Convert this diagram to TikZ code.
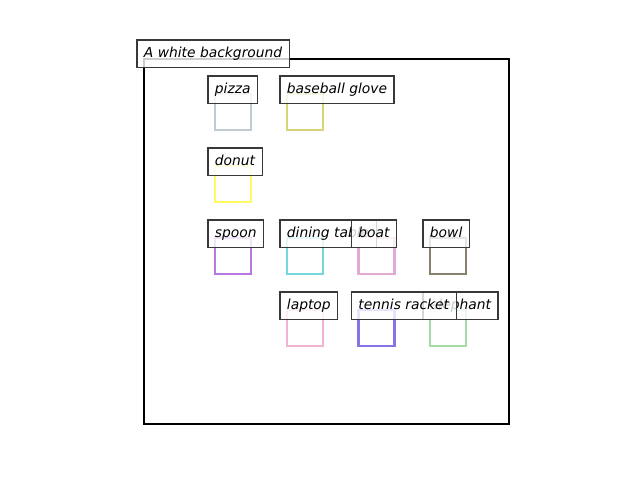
\documentclass[tikz,border=0pt]{standalone}
\usepackage{fontspec}
\setmainfont{DejaVu Sans}
\definecolor{cpizza}{RGB}{190,203,208}
\definecolor{cglove}{RGB}{215,212,120}
\definecolor{cdonut}{RGB}{255,250,100}
\definecolor{cspoon}{RGB}{185,120,225}
\definecolor{ctable}{RGB}{115,215,220}
\definecolor{cboat}{RGB}{225,170,210}
\definecolor{cbowl}{RGB}{135,128,110}
\definecolor{claptop}{RGB}{240,180,210}
\definecolor{cracket}{RGB}{135,115,230}
\definecolor{celephant}{RGB}{165,220,165}
\tikzset{
  objbox/.style={draw=#1, line width=1.5pt, minimum size=26pt, inner sep=0pt, outer sep=0pt, anchor=north west},
  lbl/.style={draw=black!78, line width=0.8pt, fill=white, fill opacity=0.8, text opacity=1,
    inner xsep=5pt, inner ysep=0pt, minimum height=20.16pt, text height=7.3pt, text depth=2.4pt,
    anchor=north west, font=\itshape\fontsize{10pt}{12pt}\selectfont, outer sep=0pt},
}
\begin{document}
\begin{tikzpicture}[x=0.01in,y=-0.01in]
\useasboundingbox (0,0) rectangle (640,480);
\node[draw=black, line width=1.5pt, minimum size=263.5pt, inner sep=0pt, outer sep=0pt, anchor=north west] (frame) at (144,59) {};
% object squares
\node[objbox=cpizza] (sqpizza) at (215,94) {};
\node[objbox=cglove] (sqglove) at (287,94) {};
\node[objbox=cdonut] (sqdonut) at (215,166) {};
\node[objbox=cspoon] (sqspoon) at (215,238) {};
\node[objbox=ctable] (sqtable) at (287,238) {};
\node[objbox=cboat] (sqboat) at (358.5,238) {};
\node[objbox=cbowl] (sqbowl) at (430,238) {};
\node[objbox=claptop] (sqlaptop) at (287,310) {};
\node[objbox=cracket] (sqracket) at (358.5,310) {};
\node[objbox=celephant] (sqelephant) at (430,310) {};
% labels
\node[lbl] (title) at (137,40) {A white background};
\node[lbl] (lpizza) at (208,76) {pizza};
\node[lbl] (lglove) at (280,76) {baseball glove};
\node[lbl] (ldonut) at (208,148) {donut};
\node[lbl] (lspoon) at (208,220) {spoon};
\node[lbl] (ltable) at (280,220) {dining table};
\node[lbl] (lboat) at (351.5,220) {boat};
\node[lbl] (lbowl) at (423,220) {bowl};
\node[lbl] (llaptop) at (280,292) {laptop};
\node[lbl] (lelephant) at (423,292) {elephant};
\node[lbl] (lracket) at (351.5,292) {tennis racket};
\end{tikzpicture}
\end{document}
